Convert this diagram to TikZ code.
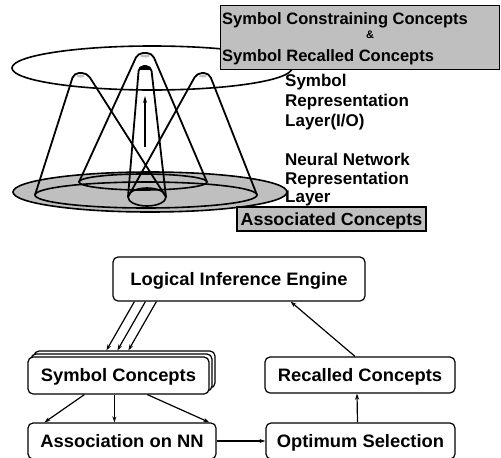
\documentclass[tikz,border=0pt]{standalone}
\usepackage{fontspec}
\setmainfont{Liberation Sans}
\newfontfamily\widesans[FakeStretch=1.02]{Liberation Sans}
\usetikzlibrary{arrows.meta,calc}
\begin{document}
\begin{tikzpicture}[x=1pt,y=-1pt,
  lbl/.style={inner sep=0pt, font=\fontsize{17}{20}\selectfont\bfseries},
  boxtxt/.style={inner sep=0pt, font=\fontsize{16.5}{20}\selectfont\bfseries},
  shadebox/.style={draw, line width=1.2pt, fill=black!25},
  flow/.style={draw, line width=1.2pt, rounded corners=5pt, fill=white,
    font=\widesans\fontsize{18}{20}\selectfont\bfseries, text height=12.8pt, text depth=0pt, inner sep=0pt},
  cone/.style={line width=1.8pt, rounded corners=5pt},
  ring/.style={line width=1.6pt},
  conn/.style={line width=1.2pt, -{Stealth[length=6pt,width=4pt]}},
  hilite/.style={fill=black!25},
]
\useasboundingbox (0,0) rectangle (501,458);
\clip (0,0) rectangle (501,458);

% neural network layer (bottom ellipses)
\fill[black!25] (150,192) ellipse [x radius=137pt, y radius=20pt];
\draw[ring] (150,192) ellipse [x radius=137pt, y radius=20pt];
\draw[ring] (146,195) ellipse [x radius=111pt, y radius=13pt];
\draw[ring] (143,182) ellipse [x radius=64pt, y radius=8pt];
\draw[ring] (147,197) ellipse [x radius=19pt, y radius=9pt];

% symbol layer (top ellipse)
\draw[ring] (152,68) ellipse [x radius=140pt, y radius=22pt];

% cones
\draw[cone] (35,195) -- (74,73) -- (87,73) -- (166,197);
\draw[cone] (79,182) -- (138,53) -- (152,53) -- (207,182);
\draw[cone] (128,197) -- (139,66) -- (151,66) -- (166,197);
\draw[cone] (128,197) -- (197,73) -- (209,73) -- (257,195);
\fill[hilite] (80.5,76) ellipse [x radius=4pt, y radius=1.5pt];
\fill[hilite] (145,56) ellipse [x radius=5pt, y radius=1.5pt];
\fill[hilite] (203,76) ellipse [x radius=4pt, y radius=1.5pt];
\draw[line width=3pt] (140,68) -- (150,68);
\draw[line width=1.5pt, -{Stealth[length=7pt,width=4pt]}] (145,147) -- (145,96);

% top box
\node[shadebox, minimum width=279pt, minimum height=64pt, anchor=north west, inner sep=0pt] (cbox) at (220,5) {};
\node[boxtxt, anchor=base west] (cline1) at (222,24) {Symbol Constraining Concepts};
\node[boxtxt, anchor=base, font=\fontsize{11}{11}\selectfont\bfseries] (camp) at (370,38) {\&};
\node[boxtxt, anchor=base west] (cline3) at (222,61) {Symbol Recalled Concepts};

% layer labels
\node[lbl, align=left, anchor=north west] (symlayer) at (285,74) {Symbol\\Representation\\Layer(I/O)};
\node[lbl, align=left, anchor=north west, font=\fontsize{17}{18.5}\selectfont\bfseries] (nnlayer) at (285,153) {Neural Network\\Representation\\Layer};

\node[shadebox, minimum width=189pt, minimum height=24pt, inner sep=0pt,
  text height=12.5pt, text depth=0pt, font=\widesans\fontsize{17.5}{20}\selectfont\bfseries] (assocc) at (331.5,219) {Associated Concepts};

% flow chart
\node[flow, minimum width=252pt, minimum height=44pt] (lie) at (239,279) {Logical Inference Engine};
\node[flow, minimum width=181pt, minimum height=37pt] (symc3) at (124.5,369.5) {};
\node[flow, minimum width=181pt, minimum height=37pt] (symc2) at (121.5,372.5) {};
\node[flow, minimum width=181pt, minimum height=37pt] (symc) at (118.5,375.5) {Symbol Concepts};
\node[flow, minimum width=190pt, minimum height=36pt] (rc) at (360,375) {Recalled Concepts};
\node[flow, minimum width=188pt, minimum height=36pt] (ann) at (122,441) {Association on NN};
\node[flow, minimum width=189pt, minimum height=36pt] (opt) at (360.5,441) {Optimum Selection};

\foreach \a/\b in {22/73, 33/84, 44/95}
  \draw[conn] ($(lie.south west)+(\a,0)$) -- ($(symc3.north west)+(\b,0)$);
\draw[conn] ($(rc.north)+(-5,0)$) -- ($(lie.south east)+(-75,0)$);
\draw[conn] ($(symc.south west)+(57,0)$) -- ($(ann.north west)+(17,0)$);
\draw[conn] ($(symc.south west)+(87,0)$) -- ($(ann.north west)+(87,0)$);
\draw[conn] ($(symc.south west)+(120,0)$) -- ($(ann.north west)+(182,0)$);
\draw[conn] (ann.east) -- (opt.west);
\draw[conn] ($(opt.north)+(-3,0)$) -- ($(rc.south)+(-3,0)$);
\end{tikzpicture}
\end{document}
